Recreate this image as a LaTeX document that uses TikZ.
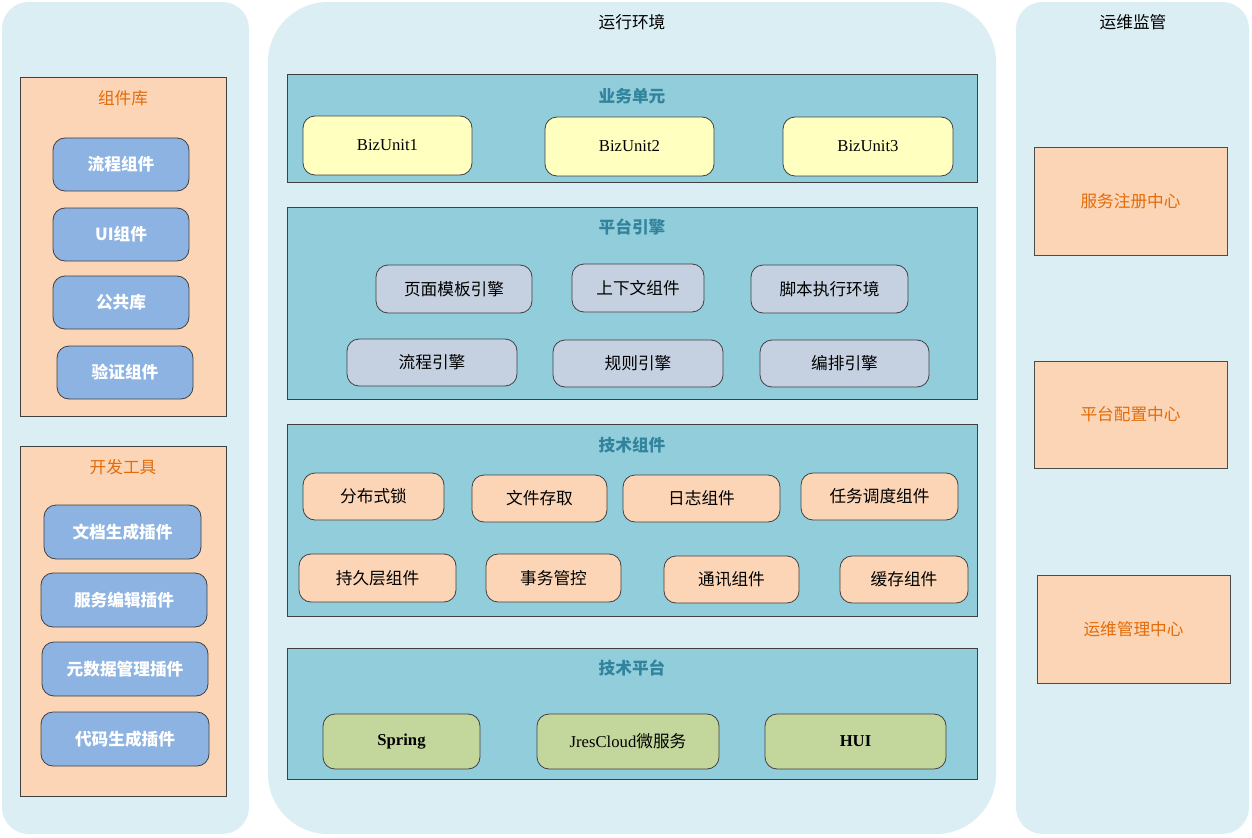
\documentclass[tikz,border=0pt]{standalone}
\usepackage{fontspec}
\newfontfamily\cjk{Noto Sans CJK SC}
\newfontfamily\ser{Liberation Serif}
\definecolor{panel}{HTML}{DBEEF4}
\definecolor{sect}{HTML}{92CDDC}
\definecolor{peach}{HTML}{FBD5B5}
\definecolor{blu}{HTML}{8DB3E2}
\definecolor{gry}{HTML}{C5D0E0}
\definecolor{yel}{HTML}{FFFFC0}
\definecolor{grn}{HTML}{C3D69B}
\definecolor{org}{HTML}{E46C0A}
\definecolor{teal}{HTML}{31849B}
\newcommand{\bx}[7]{\node[#6, minimum width={(#4-#2)*0.75pt}, minimum height={(#5-#3)*0.75pt}] (#1) at ({(#2+#4)/2},{(#3+#5)/2}) {#7};}
\tikzset{
 base/.style={draw=black!75, line width=0.6pt, inner sep=0pt, font=\cjk\fontsize{12.5}{14}\selectfont},
 rbox/.style={base, rounded corners=9pt},
 bluebox/.style={rbox, fill=blu, text=white, font=\cjk\bfseries\fontsize{12.5}{14}\selectfont},
 graybox/.style={rbox, fill=gry},
 peachbox/.style={rbox, fill=peach},
 yelbox/.style={rbox, fill=yel, font=\ser\fontsize{12.5}{14}\selectfont},
 grnbox/.style={rbox, fill=grn},
 sectbox/.style={base, fill=sect},
 groupbox/.style={base, fill=peach},
 centerbox/.style={base, fill=peach, draw=black!70, text=org},
 sectitle/.style={font=\cjk\bfseries\fontsize{12.5}{14}\selectfont, text=teal},
 grouptitle/.style={font=\cjk\fontsize{12.5}{14}\selectfont, text=org},
 paneltitle/.style={font=\cjk\fontsize{12.5}{14}\selectfont},
}
\begin{document}
\begin{tikzpicture}[x=0.75pt,y=-0.75pt]
\useasboundingbox (0,0) rectangle (1252,838);
\fill[white] (0,0) rectangle (1252,838);
\fill[panel, rounded corners=20pt] (2,2) rectangle (249,834);
\fill[panel, rounded corners=45pt] (268,2) rectangle (996,834);
\fill[panel, rounded corners=20pt] (1016,2) rectangle (1249,834);
\node[paneltitle] (t1) at (632,22) {运行环境};
\node[paneltitle] (t2) at (1133,22) {运维监管};
% left
\bx{g1}{20}{77}{226}{416}{groupbox}{}
\node[grouptitle] (g1t) at (123,98) {组件库};
\bx{a1}{53}{138}{189}{191}{bluebox}{流程组件}
\bx{a2}{53}{208}{189}{261}{bluebox}{UI组件}
\bx{a3}{53}{276}{189}{329}{bluebox}{公共库}
\bx{a4}{57}{346}{193}{399}{bluebox}{验证组件}
\bx{g2}{20}{446}{226}{796}{groupbox}{}
\node[grouptitle] (g2t) at (123,467) {开发工具};
\bx{b1}{44}{505}{201}{559}{bluebox}{文档生成插件}
\bx{b2}{41}{573}{207}{627}{bluebox}{服务编辑插件}
\bx{b3}{42}{642}{208}{696}{bluebox}{元数据管理插件}
\bx{b4}{41}{712}{209}{766}{bluebox}{代码生成插件}
% middle
\bx{s1}{287}{74}{977}{182}{sectbox}{}
\node[sectitle] (s1t) at (632,96) {业务单元};
\bx{u1}{303}{116}{472}{175}{yelbox}{BizUnit1}
\bx{u2}{545}{117}{714}{176}{yelbox}{BizUnit2}
\bx{u3}{783}{117}{953}{176}{yelbox}{BizUnit3}
\bx{s2}{287}{207}{977}{399}{sectbox}{}
\node[sectitle] (s2t) at (632,227) {平台引擎};
\bx{e1}{376}{265}{532}{313}{graybox}{页面模板引擎}
\bx{e2}{572}{264}{704}{312}{graybox}{上下文组件}
\bx{e3}{751}{265}{908}{313}{graybox}{脚本执行环境}
\bx{e4}{347}{339}{517}{386}{graybox}{流程引擎}
\bx{e5}{553}{340}{723}{387}{graybox}{规则引擎}
\bx{e6}{760}{340}{929}{387}{graybox}{编排引擎}
\bx{s3}{287}{424}{977}{616}{sectbox}{}
\node[sectitle] (s3t) at (632,445) {技术组件};
\bx{c1}{303}{473}{444}{520}{peachbox}{分布式锁}
\bx{c2}{472}{475}{607}{522}{peachbox}{文件存取}
\bx{c3}{623}{475}{780}{522}{peachbox}{日志组件}
\bx{c4}{801}{473}{958}{520}{peachbox}{任务调度组件}
\bx{c5}{299}{554}{456}{602}{peachbox}{持久层组件}
\bx{c6}{486}{554}{621}{602}{peachbox}{事务管控}
\bx{c7}{664}{556}{799}{603}{peachbox}{通讯组件}
\bx{c8}{840}{556}{968}{603}{peachbox}{缓存组件}
\bx{s4}{287}{648}{977}{779}{sectbox}{}
\node[sectitle] (s4t) at (632,668) {技术平台};
\bx{p1}{323}{714}{480}{769}{grnbox}{\ser\bfseries Spring}
\bx{p2}{537}{714}{719}{769}{grnbox}{{\ser JresCloud}微服务}
\bx{p3}{765}{714}{946}{769}{grnbox}{\ser\bfseries HUI}
% right
\bx{r1}{1034}{147}{1227}{255}{centerbox}{服务注册中心}
\bx{r2}{1034}{361}{1227}{468}{centerbox}{平台配置中心}
\bx{r3}{1037}{575}{1230}{683}{centerbox}{运维管理中心}
\end{tikzpicture}
\end{document}
